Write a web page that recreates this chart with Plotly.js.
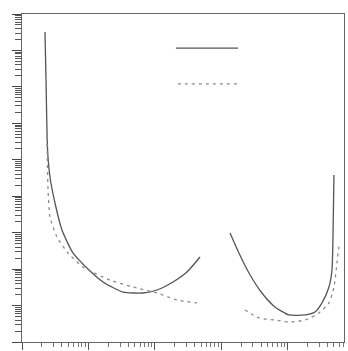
<!DOCTYPE html>
<html>
<head>
<meta charset="utf-8">
<script src="https://cdn.plot.ly/plotly-3.0.1.min.js"></script>
<style>html,body{margin:0;padding:0;background:#fff;}#chart{width:348px;height:351px;}</style>
</head>
<body>
<div id="chart"></div>
<script>
// Left pair of curves
var leftSolidX = [2.22, 2.30, 2.36, 2.44, 2.64, 3.14, 4.0, 5.86, 9.5, 16.6, 33.2, 66.4, 108, 188, 305, 480];
var leftSolidY = [3.2e8, 1.55e7, 1.23e6, 1.53e5, 3.37e4, 6520, 1180, 277, 107, 44.4, 23.5, 22.1, 26.7, 44.4, 83.4, 215];
var leftDashX = [2.38, 2.46, 2.64, 3.37, 4.93, 8.3, 21.1, 47, 108, 216, 432];
var leftDashY = [4.22e5, 1.79e4, 2690, 762, 277, 114, 50.2, 32.2, 22.1, 14.2, 11.8];
// Right pair of curves
var rightSolidX = [1360, 1850, 2620, 4110, 6460, 10500, 18300, 25900, 33000, 42000, 46650, 48300, 50000];
var rightSolidY = [982, 277, 78.3, 22.1, 9.15, 5.52, 5.52, 6.65, 11.8, 32.2, 94.6, 762, 38300];
var rightDashX = [2280, 3710, 6460, 10500, 18300, 29700, 42000, 50000, 55500, 59400, 62000];
var rightDashY = [7.55, 4.56, 4.01, 3.54, 4.01, 6.25, 11.8, 32.2, 147, 404, 469];

var xDecades = [1, 10, 100, 1000, 10000];
var yDecades = [1, 1e1, 1e2, 1e3, 1e4, 1e5, 1e6, 1e7, 1e8, 1e9];
function minorsOf(decades, maxVal) {
  var out = [];
  decades.forEach(function (d) {
    for (var m = 2; m <= 9; m++) { if (d * m <= maxVal) out.push(d * m); }
  });
  return out;
}
var xMinor = minorsOf(xDecades, 70000);
var yMinor = minorsOf(yDecades, 1e9);

var solidLine = {color: '#555555', width: 1.3, shape: 'spline', smoothing: 0.6};
var dashLine = {color: '#8a8a8a', width: 1.3, dash: '3px,4px', shape: 'spline', smoothing: 0.6};

var traces = [
  {x: leftSolidX, y: leftSolidY, mode: 'lines', line: solidLine, hoverinfo: 'skip'},
  {x: leftDashX, y: leftDashY, mode: 'lines', line: dashLine, hoverinfo: 'skip'},
  {x: rightSolidX, y: rightSolidY, mode: 'lines', line: solidLine, hoverinfo: 'skip'},
  {x: rightDashX, y: rightDashY, mode: 'lines', line: dashLine, hoverinfo: 'skip'}
];

var layout = {
  width: 348, height: 351,
  margin: {l: 22, r: 4, t: 14, b: 9},
  paper_bgcolor: '#ffffff', plot_bgcolor: '#ffffff',
  showlegend: false,
  xaxis: {
    type: 'log', range: [0, 4.85],
    showgrid: false, zeroline: false, showticklabels: false,
    showline: true, linecolor: '#666', linewidth: 1, mirror: true,
    ticks: 'outside', tickmode: 'array', tickvals: xDecades, ticklen: 7, tickcolor: '#555', tickwidth: 1,
    minor: {tickmode: 'array', tickvals: xMinor, ticks: 'outside', ticklen: 4, tickcolor: '#777', showgrid: false}
  },
  yaxis: {
    type: 'log', range: [0, 9],
    showgrid: false, zeroline: false, showticklabels: false,
    showline: true, linecolor: '#666', linewidth: 1, mirror: true,
    ticks: 'outside', tickmode: 'array', tickvals: yDecades, ticklen: 9, tickcolor: '#444', tickwidth: 1,
    minor: {tickmode: 'array', tickvals: yMinor, ticks: 'outside', ticklen: 6, tickcolor: '#555', showgrid: false}
  },
  shapes: [
    {type: 'line', xref: 'paper', yref: 'paper', x0: 0.478, x1: 0.671, y0: 0.896, y1: 0.896, line: {color: '#555', width: 1.3}},
    {type: 'line', xref: 'paper', yref: 'paper', x0: 0.484, x1: 0.671, y0: 0.787, y1: 0.787, line: {color: '#8a8a8a', width: 1.3, dash: '3px,4px'}}
  ]
};

Plotly.newPlot('chart', traces, layout, {staticPlot: true, displayModeBar: false});
</script>
</body>
</html>
